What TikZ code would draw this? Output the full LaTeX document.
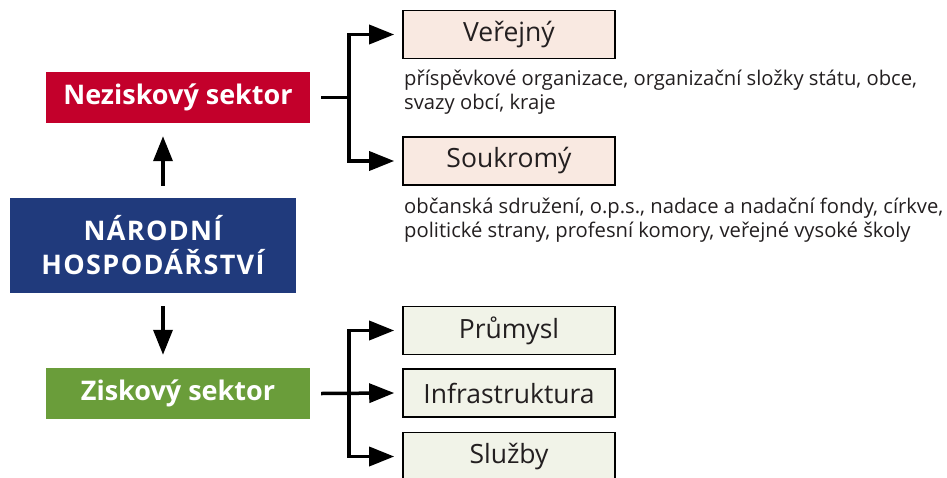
\documentclass[tikz,border=0pt]{standalone}
\usepackage{fontspec}
\setmainfont{Open Sans}
\newfontfamily\spacedbold[LetterSpace=5]{Open Sans}
\usetikzlibrary{arrows.meta}
\definecolor{nzred}{HTML}{C3002B}
\definecolor{nhblue}{HTML}{203A7C}
\definecolor{zkgreen}{HTML}{6A9D3A}
\definecolor{pinkfill}{HTML}{F9E9E1}
\definecolor{greenfill}{HTML}{F1F3E8}
\definecolor{inktext}{HTML}{231F20}
\begin{document}
\begin{tikzpicture}[x=1pt,y=-1pt,
  colbox/.style={draw=none, text=white, inner sep=0pt,
    font=\fontsize{27}{33}\selectfont\bfseries, align=center},
  subbox/.style={draw=black, line width=1.6pt, minimum width=212pt,
    minimum height=48pt, inner sep=0pt, text=inktext, font=\fontsize{26.5}{30}\selectfont},
  thick line/.style={line width=3.5pt},
  conn/.style={line width=3.5pt, -{Triangle[length=25pt,width=19pt]}},
  desc/.style={anchor=base west, inner sep=0pt, text=inktext, font=\fontsize{20.2}{24}\selectfont}
]
\clip (0,0) rectangle (947,477);
\fill[white] (0,0) rectangle (947,477);

% left column
\node[colbox, fill=nzred, minimum width=264pt, minimum height=51pt] (nez) at (178,97.5) {Neziskový sektor};
\node[colbox, fill=nhblue, minimum width=286pt, minimum height=95pt,
  font=\fontsize{27}{34}\spacedbold\bfseries] (nh) at (153,245.5) {NÁRODNÍ\\HOSPODÁŘSTVÍ};
\node[colbox, fill=zkgreen, minimum width=264pt, minimum height=51pt] (zisk) at (178,393.5) {Ziskový sektor};

% right boxes
\node[subbox, fill=pinkfill] (ver) at (509,34.5) {Veřejný};
\node[subbox, fill=pinkfill] (sou) at (509,161) {Soukromý};
\node[subbox, fill=greenfill] (pru) at (509,330.5) {Průmysl};
\node[subbox, fill=greenfill] (inf) at (509,393) {Infrastruktura};
\node[subbox, fill=greenfill] (slu) at (509,456.5) {Služby};

% descriptions
\node[desc] (d1a) at (404,85) {příspěvkové organizace, organizační složky státu, obce,};
\node[desc] (d1b) at (404,109) {svazy obcí, kraje};
\node[desc] (d2a) at (404,213) {občanská sdružení, o.p.s., nadace a nadační fondy, církve,};
\node[desc] (d2b) at (404,237) {politické strany, profesní komory, veřejné vysoké školy};

% vertical arrows
\draw[conn] ([xshift=10pt,yshift=12pt]nh.north) -- ([xshift=-15pt,yshift=-13pt]nez.south);
\draw[conn] ([xshift=10pt,yshift=-13pt]nh.south) -- ([xshift=-15pt,yshift=13pt]zisk.north);

% Neziskovy branch
\coordinate (jn) at (349,97.5);
\draw[thick line] ([xshift=11pt]nez.east) -- (jn);
\draw[conn] (jn) |- ([xshift=-8pt]ver.west);
\draw[conn] (jn) |- ([xshift=-8pt]sou.west);

% Ziskovy branch
\coordinate (jz) at (349,393);
\draw[conn] ([xshift=11pt]zisk.east) -- ([xshift=-8pt]inf.west);
\draw[conn] (jz) |- ([xshift=-8pt]pru.west);
\draw[conn] (jz) |- ([xshift=-8pt]slu.west);
\end{tikzpicture}
\end{document}
